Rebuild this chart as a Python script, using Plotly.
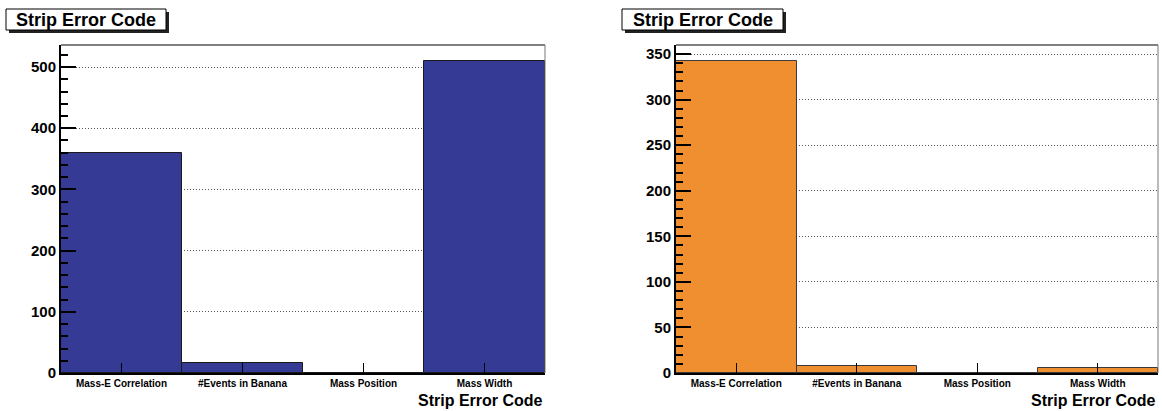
import plotly.graph_objects as go

# Error-code histograms for two strip detectors
categories = ["Mass-E Correlation", "#Events in Banana", "Mass Position", "Mass Width"]
counts_left = [360, 16, 0, 510]
counts_right = [342, 8, 0, 5]
y_ticks_left = [0, 100, 200, 300, 400, 500]
y_ticks_right = [0, 50, 100, 150, 200, 250, 300, 350]

W, H = 1162, 411
FONT = "Liberation Sans"


def px_x(v):
    return v / W


def px_y(v):
    return 1 - v / H


fig = go.Figure()
fig.add_trace(go.Bar(x=categories, y=counts_left, xaxis="x", yaxis="y",
                     marker=dict(color="#353a94", line=dict(color="#1a1a1a", width=1)),
                     showlegend=False))
fig.add_trace(go.Bar(x=categories, y=counts_right, xaxis="x2", yaxis="y2",
                     marker=dict(color="#f08f30", line=dict(color="#3a3a3a", width=1)),
                     showlegend=False))

ydom = [px_y(373), px_y(45)]
dom_left = [px_x(61), px_x(545)]
dom_right = [px_x(676), px_x(1158)]

xaxis_common = dict(
    type="category", showline=True, linewidth=2, linecolor="black",
    ticks="inside", ticklen=10, tickwidth=1, tickcolor="black",
    tickfont=dict(family=FONT, size=10, color="black", weight="bold"),
    showgrid=False, zeroline=False, fixedrange=True, automargin=False,
)
yaxis_common = dict(
    showline=True, linewidth=2, linecolor="black",
    ticks="inside", ticklen=15, tickwidth=1.5, tickcolor="black",
    tickfont=dict(family=FONT, size=15, color="black", weight="bold"),
    showgrid=True, gridcolor="#555555", griddash="1px,2px", gridwidth=1,
    zeroline=False, domain=ydom, automargin=False,
)

fig.update_layout(
    width=W, height=H,
    margin=dict(l=0, r=0, t=0, b=0, autoexpand=False),
    paper_bgcolor="white", plot_bgcolor="white",
    bargap=0,
    xaxis=dict(domain=dom_left, anchor="y", **xaxis_common),
    xaxis2=dict(domain=dom_right, anchor="y2", **xaxis_common),
    yaxis=dict(anchor="x", range=[0, 536], tickvals=y_ticks_left,
               minor=dict(dtick=20, ticks="inside", ticklen=7, tickcolor="black", showgrid=False),
               **yaxis_common),
    yaxis2=dict(anchor="x2", range=[0, 360], tickvals=y_ticks_right,
                minor=dict(dtick=10, ticks="inside", ticklen=7, tickcolor="black", showgrid=False),
                **yaxis_common),
)

shapes = []
annotations = []
for xref, yref in (("x domain", "y domain"), ("x2 domain", "y2 domain")):
    # thin frame on the top and right edges
    shapes.append(dict(type="line", xref=xref, yref=yref, x0=0, x1=1, y0=1, y1=1,
                       line=dict(color="black", width=1), layer="above"))
    shapes.append(dict(type="line", xref=xref, yref=yref, x0=1, x1=1, y0=0, y1=1,
                       line=dict(color="#777777", width=1), layer="above"))
    # axis title placed under the right end of the x axis
    annotations.append(dict(text="<b>Strip Error Code</b>", xref=xref, yref="paper",
                            x=1, y=px_y(400), xanchor="right", yanchor="middle",
                            showarrow=False,
                            font=dict(family=FONT, size=16, color="black")))

# title boxes with drop shadow
for x0, x1, tx in ((6, 166, 86), (622, 783, 702.5)):
    y0, y1 = 9, 30
    shapes.append(dict(type="rect", xref="paper", yref="paper",
                       x0=px_x(x0 + 3), x1=px_x(x1 + 3), y0=px_y(y1 + 3), y1=px_y(y0 + 3),
                       fillcolor="#222222", line=dict(width=0)))
    shapes.append(dict(type="rect", xref="paper", yref="paper",
                       x0=px_x(x0), x1=px_x(x1), y0=px_y(y1), y1=px_y(y0),
                       fillcolor="white", line=dict(color="black", width=1)))
    annotations.append(dict(text="<b>Strip Error Code</b>", xref="paper", yref="paper",
                            x=px_x(tx), y=px_y((y0 + y1) / 2), xanchor="center",
                            yanchor="middle", showarrow=False,
                            font=dict(family=FONT, size=18, color="black")))

fig.update_layout(shapes=shapes, annotations=annotations)
fig.write_html("out.html")
